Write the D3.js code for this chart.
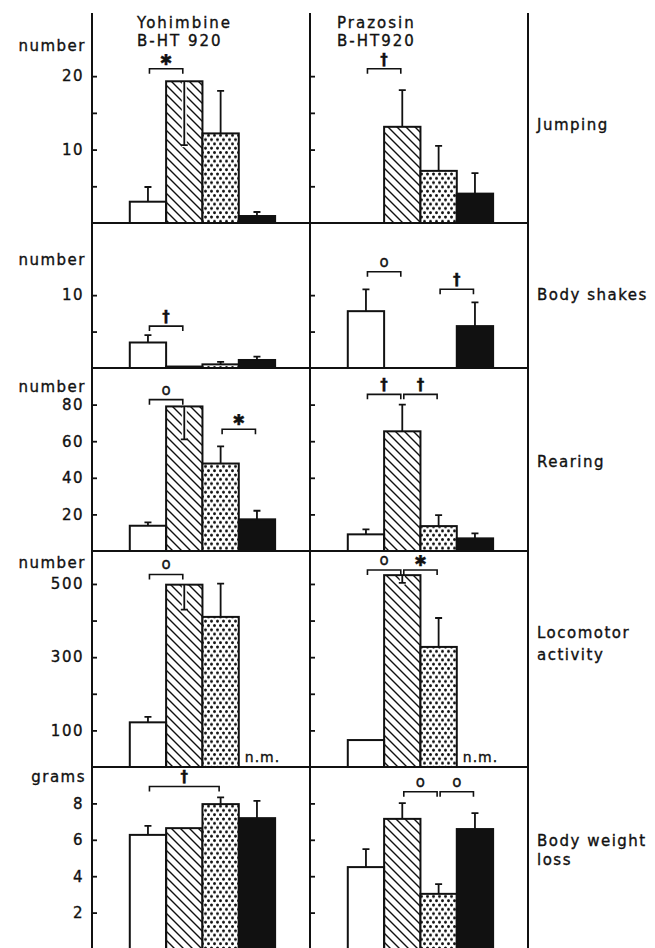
<!DOCTYPE html>
<html>
<head>
<meta charset="utf-8">
<script src="https://cdnjs.cloudflare.com/ajax/libs/d3/7.8.5/d3.min.js"></script>
<style>
body { margin: 0; background: #fff; }
svg text { font-family: "DejaVu Sans", sans-serif; fill: #111; stroke: #111; stroke-width: 0.35px; }
</style>
</head>
<body>
<div id="visContainer"></div>
<script>
'use strict';  //treat silly mistakes as run-time errors

// two drug groups, four bars each: white, hatched, dotted, black
var GROUPS = [["Yohimbine", "B-HT 920"], ["Prazosin", "B-HT920"]];
var FILLS = ["white", "hatch", "dots", "solid"];
var MEASURES = [["Jumping"], ["Body shakes"], ["Rearing"], ["Locomotor", "activity"], ["Body weight", "loss"]];
var UNITS = ["number", "number", "number", "number", "grams"];
var AXIS_MAX = [28.6, 19.9, 100, 590, 10];
var TICKS = [[5, 10, 15, 20], [5, 10], [20, 40, 60, 80], [100, 200, 300, 400, 500], [2, 4, 6, 8]];
var TICK_LABELS = [[10, 20], [10], [20, 40, 60, 80], [100, 300, 500], [2, 4, 6, 8]];

// means per group [Yohimbine, Prazosin]; null = not measured
var JUMPING = [[2.9, 19.3, 12.2, 0.95], [0, 13.1, 7.1, 4.0]];
var BODY_SHAKES = [[3.5, 0.2, 0.5, 1.1], [7.8, 0, 0, 5.75]];
var REARING = [[13.8, 79, 47.8, 17.3], [9.1, 65.4, 13.6, 6.9]];
var LOCOMOTOR = [[122, 498, 410, null], [73.6, 524, 328, null]];
var WEIGHT_LOSS = [[6.27, 6.64, 7.96, 7.19], [4.5, 7.15, 3.03, 6.59]];

// S.E.M. (negative = drawn downwards inside the bar)
var JUMPING_SEM = [[2.0, -8.7, 5.8, 0.55], [0, 5.0, 3.4, 2.8]];
var BODY_SHAKES_SEM = [[1.0, 0, 0.35, 0.45], [3.0, 0, 0, 3.25]];
var REARING_SEM = [[1.8, -18, 9.4, 4.7], [2.7, 14.6, 6.0, 2.7]];
var LOCOMOTOR_SEM = [[15, -68, 91, null], [0, -21, 79, null]];
var WEIGHT_LOSS_SEM = [[0.5, 0, 0.37, 0.95], [0.99, 0.87, 0.53, 0.88]];

// significance brackets: [group, fromBar, toBar, level (axis units), mark]
var SIG_JUMPING = [[0, 0, 1, 21, "\u2731"], [1, 0, 1, 21, "\u2020"]];
var SIG_BODY_SHAKES = [[0, 0, 1, 5.75, "\u2020"], [1, 0, 1, 13.2, "o"], [1, 2, 3, 10.8, "\u2020"]];
var SIG_REARING = [[0, 0, 1, 82.7, "o"], [0, 2, 3, 66.5, "\u2731"], [1, 0, 1, 85.6, "\u2020"], [1, 1, 2, 85.6, "\u2020"]];
var SIG_LOCOMOTOR = [[0, 0, 1, 526, "o"], [1, 0, 1, 538, "o"], [1, 1, 2, 538, "\u2731"]];
var SIG_WEIGHT_LOSS = [[0, 0, 2, 8.93, "\u2020"], [1, 1, 2, 8.64, "o"], [1, 2, 3, 8.64, "o"]];

var VALUES = [JUMPING, BODY_SHAKES, REARING, LOCOMOTOR, WEIGHT_LOSS];
var SEMS = [JUMPING_SEM, BODY_SHAKES_SEM, REARING_SEM, LOCOMOTOR_SEM, WEIGHT_LOSS_SEM];
var SIGS = [SIG_JUMPING, SIG_BODY_SHAKES, SIG_REARING, SIG_LOCOMOTOR, SIG_WEIGHT_LOSS];

// layout
var width = 655, height = 948;
var colX = [92, 310, 528];
var panelY = [13, 223, 368, 551, 767, 949];
var unitBaseline = [51, 265, 392, 568, 782];
var labelBaseline = [[130], [300], [467], [638, 660], [846, 865]];

var svg = d3.select("#visContainer").append("svg")
    .attr("width", width)
    .attr("height", height);

var defs = svg.append("defs");
defs.append("pattern")
    .attr("id", "hatch")
    .attr("patternUnits", "userSpaceOnUse")
    .attr("width", 9).attr("height", 9)
  .append("path")
    .attr("d", "M-1,8 L1,10 M0,0 L9,9 M8,-1 L10,1")
    .attr("stroke", "#111")
    .attr("stroke-width", 1.4);
var dots = defs.append("pattern")
    .attr("id", "dots")
    .attr("patternUnits", "userSpaceOnUse")
    .attr("width", 6).attr("height", 8.6);
dots.append("rect").attr("width", 6).attr("height", 8.6).attr("fill", "#fff");
dots.append("circle").attr("cx", 1.5).attr("cy", 2).attr("r", 1.5).attr("fill", "#111");
dots.append("circle").attr("cx", 4.5).attr("cy", 6.3).attr("r", 1.5).attr("fill", "#111");

function fill_of(kind) {
    if (kind == "white") return "#fff";
    if (kind == "solid") return "#111";
    return "url(#" + kind + ")";
}

function draw_panel(p) {
    var y = d3.scaleLinear()
        .domain([0, AXIS_MAX[p]])
        .range([panelY[p + 1], panelY[p]]);

    for (var g = 0; g < GROUPS.length; g++) {
        var x = d3.scaleBand()
            .domain([0, 1, 2, 3])
            .range([colX[g], colX[g + 1]])
            .paddingInner(0)
            .paddingOuter(1)
            .align(0.52);
        var vals = VALUES[p][g];
        var sems = SEMS[p][g];
        var pg = svg.append("g");

        // inward tick marks
        var ticks = pg.append("g")
            .attr("transform", "translate(" + colX[g] + ",0)")
            .call(d3.axisRight(y).tickValues(TICKS[p]).tickSize(5).tickFormat(""));
        ticks.select(".domain").remove();
        ticks.selectAll("line").attr("stroke", "#111").attr("stroke-width", 1.8);

        if (g == 0) {
            var lab = pg.append("g")
                .attr("transform", "translate(" + colX[0] + ",0)")
                .call(d3.axisLeft(y).tickValues(TICK_LABELS[p]).tickSize(0).tickPadding(8));
            lab.select(".domain").remove();
            lab.selectAll("text")
                .style("font-size", "15px")
                .style("letter-spacing", "1.5px")
                .attr("fill", "#111");
        }

        for (var i = 0; i < vals.length; i++) {
            var v = vals[i];
            if (v === null) {
                pg.append("text")
                    .attr("x", x(i) + 6)
                    .attr("y", y(0) - 5)
                    .style("font-size", "14px")
                    .style("letter-spacing", "1px")
                    .text("n.m.");
                continue;
            }
            if (v > 0) {
                pg.append("rect")
                    .attr("x", x(i))
                    .attr("y", y(v))
                    .attr("width", x.bandwidth())
                    .attr("height", y(0) - y(v))
                    .attr("fill", fill_of(FILLS[i]))
                    .attr("stroke", "#111")
                    .attr("stroke-width", 2);
            }
            var s = sems[i];
            if (s) {
                var cx = x(i) + x.bandwidth() / 2;
                var y1 = y(v), y2 = y(v + s);
                if (s < 0) {
                    pg.append("line")
                        .attr("x1", cx).attr("x2", cx)
                        .attr("y1", y1 + 1).attr("y2", y2 + 2)
                        .attr("stroke", "#fff")
                        .attr("stroke-width", 5);
                }
                pg.append("path")
                    .attr("d", "M" + cx + "," + y1 + "V" + y2 + "M" + (cx - 3.5) + "," + y2 + "H" + (cx + 3.5))
                    .attr("fill", "none")
                    .attr("stroke", "#111")
                    .attr("stroke-width", 1.8);
            }
        }

        // significance brackets
        var sig = SIGS[p].filter(function(d) { return d[0] == g; });
        for (var k = 0; k < sig.length; k++) {
            var xa = x(sig[k][1]) + x.bandwidth() / 2 + 1.5;
            var xb = x(sig[k][2]) + x.bandwidth() / 2 - 1.5;
            var yl = y(sig[k][3]);
            pg.append("path")
                .attr("d", "M" + xa + "," + (yl + 5) + "V" + yl + "H" + xb + "V" + (yl + 5))
                .attr("fill", "none")
                .attr("stroke", "#111")
                .attr("stroke-width", 1.6);
            var mark = sig[k][4];
            pg.append("text")
                .attr("x", (xa + xb) / 2)
                .attr("y", yl - (mark == "o" ? 5 : 4))
                .attr("text-anchor", "middle")
                .style("font-size", mark == "\u2731" ? "15px" : "15px")
                .style("font-weight", mark == "o" ? "normal" : "bold")
                .text(mark);
        }
    }

    // unit label
    svg.append("text")
        .attr("x", 86)
        .attr("y", unitBaseline[p])
        .attr("text-anchor", "end")
        .style("font-size", "15px")
        .style("letter-spacing", "1.5px")
        .text(UNITS[p]);

    // measure name on the right
    var lines = MEASURES[p];
    for (var j = 0; j < lines.length; j++) {
        svg.append("text")
            .attr("x", 537)
            .attr("y", labelBaseline[p][j])
            .style("font-size", "15px")
            .style("letter-spacing", "1.5px")
            .text(lines[j]);
    }

    // panel baseline
    svg.append("line")
        .attr("x1", colX[0]).attr("x2", colX[2])
        .attr("y1", y(0)).attr("y2", y(0))
        .attr("stroke", "#111")
        .attr("stroke-width", 2);
}

for (var p = 0; p < MEASURES.length; p++) {
    draw_panel(p);
}

// column frame lines
for (var c = 0; c < colX.length; c++) {
    svg.append("line")
        .attr("x1", colX[c]).attr("x2", colX[c])
        .attr("y1", panelY[0]).attr("y2", height)
        .attr("stroke", "#111")
        .attr("stroke-width", 2);
}

// group headers
var headX = [137, 337];
for (var h = 0; h < GROUPS.length; h++) {
    svg.append("text").attr("x", headX[h]).attr("y", 28)
        .style("font-size", "15px").style("letter-spacing", "2px")
        .text(GROUPS[h][0]);
    svg.append("text").attr("x", headX[h]).attr("y", 46)
        .style("font-size", "15px").style("letter-spacing", "2px")
        .text(GROUPS[h][1]);
}
</script>
</body>
</html>
